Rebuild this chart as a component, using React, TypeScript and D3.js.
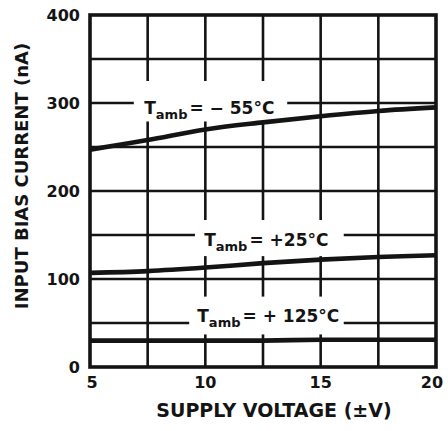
import { useEffect, useRef } from "react";
import * as d3 from "d3";

// supply voltage (±V) at the grid columns
const volts = [5, 7.5, 10, 12.5, 15, 17.5, 20];
// input bias current (nA) per ambient temperature
const biasM55 = [247, 258, 270, 278, 285, 291, 295];
const biasP25 = [107, 109, 113, 118, 122, 125, 127];
const biasP125 = [30, 30, 30, 30, 31, 31, 31];

const xTicks = [5, 10, 15, 20];
const yTicks = [0, 100, 200, 300, 400];
const xGrid = [7.5, 10, 12.5, 15, 17.5];
const yGrid = [50, 100, 150, 200, 250, 300, 350];

// curve labels: text, anchor (volts, nA) of the baseline start
const labels = [
  { sign: "= \u2212 55\u00b0C", x: 7.35, y: 288, box: [6.9, 13.55, 279, 325] },
  { sign: "= +25\u00b0C", x: 9.95, y: 137, box: [9.55, 16.0, 126, 167] },
  { sign: "= + 125\u00b0C", x: 9.65, y: 51, box: [9.3, 16.0, 37, 80] },
];

export default function App() {
  const ref = useRef<SVGSVGElement>(null);

  useEffect(() => {
    const svg = d3.select(ref.current);
    svg.selectAll("*").remove();

    const width = 448;
    const height = 431;
    svg.attr("width", width).attr("height", height);

    const x = d3.scaleLinear().domain([5, 20]).range([90, 436]);
    const y = d3.scaleLinear().domain([0, 400]).range([367, 15]);
    const ink = "#141414";
    const font = "'DejaVu Sans', sans-serif";

    svg.append("rect").attr("width", width).attr("height", height).attr("fill", "#fff");

    // grid
    svg
      .selectAll(".vg")
      .data(xGrid)
      .join("line")
      .attr("x1", (d) => x(d))
      .attr("x2", (d) => x(d))
      .attr("y1", y(400))
      .attr("y2", y(0))
      .attr("stroke", ink)
      .attr("stroke-width", 2.6);

    svg
      .selectAll(".hg")
      .data(yGrid)
      .join("line")
      .attr("x1", x(5))
      .attr("x2", x(20))
      .attr("y1", (d) => y(d))
      .attr("y2", (d) => y(d))
      .attr("stroke", ink)
      .attr("stroke-width", 2.4);

    // white gaps behind curve labels
    svg
      .selectAll(".gap")
      .data(labels)
      .join("rect")
      .attr("x", (d) => x(d.box[0]))
      .attr("width", (d) => x(d.box[1]) - x(d.box[0]))
      .attr("y", (d) => y(d.box[3]))
      .attr("height", (d) => y(d.box[2]) - y(d.box[3]))
      .attr("fill", "#fff");

    // frame
    svg
      .append("rect")
      .attr("x", x(5))
      .attr("y", y(400))
      .attr("width", x(20) - x(5))
      .attr("height", y(0) - y(400))
      .attr("fill", "none")
      .attr("stroke", ink)
      .attr("stroke-width", 3.6);

    // curves
    const line = d3
      .line<number>()
      .x((_, i) => x(volts[i]))
      .y((d) => y(d))
      .curve(d3.curveCatmullRom);

    [biasM55, biasP25, biasP125].forEach((s) => {
      svg
        .append("path")
        .attr("d", line(s))
        .attr("fill", "none")
        .attr("stroke", ink)
        .attr("stroke-width", 4.6);
    });

    // curve labels
    labels.forEach((l) => {
      const t = svg
        .append("text")
        .attr("x", x(l.x))
        .attr("y", y(l.y))
        .attr("font-family", font)
        .attr("font-weight", "bold")
        .attr("fill", ink);
      t.append("tspan").attr("font-size", 17).text("T");
      t.append("tspan").attr("font-size", 13).attr("dy", 5).text("amb");
      t.append("tspan").attr("font-size", 17).attr("dy", -5).attr("dx", 2).text(l.sign);
    });

    // tick labels
    svg
      .selectAll(".yt")
      .data(yTicks)
      .join("text")
      .attr("x", 80)
      .attr("y", (d) => y(d))
      .attr("dy", "0.36em")
      .attr("text-anchor", "end")
      .attr("font-family", font)
      .attr("font-weight", "bold")
      .attr("font-size", 16)
      .attr("fill", ink)
      .text((d) => d);

    svg
      .selectAll(".xt")
      .data(xTicks)
      .join("text")
      .attr("x", (d) => x(d) + (d === 5 ? 2 : d === 20 ? -4 : 0))
      .attr("y", 388)
      .attr("text-anchor", "middle")
      .attr("font-family", font)
      .attr("font-weight", "bold")
      .attr("font-size", 16)
      .attr("fill", ink)
      .text((d) => d);

    // axis titles
    svg
      .append("text")
      .attr("x", 274)
      .attr("y", 417)
      .attr("text-anchor", "middle")
      .attr("font-family", font)
      .attr("font-weight", "bold")
      .attr("font-size", 19)
      .attr("fill", ink)
      .text("SUPPLY VOLTAGE (\u00b1V)");

    svg
      .append("text")
      .attr("transform", "translate(28,176) rotate(-90)")
      .attr("text-anchor", "middle")
      .attr("font-family", font)
      .attr("font-weight", "bold")
      .attr("font-size", 18)
      .attr("fill", ink)
      .text("INPUT BIAS CURRENT (nA)");
  }, []);

  return <svg ref={ref} style={{ position: "absolute", left: 0, top: 0 }}></svg>;
}
